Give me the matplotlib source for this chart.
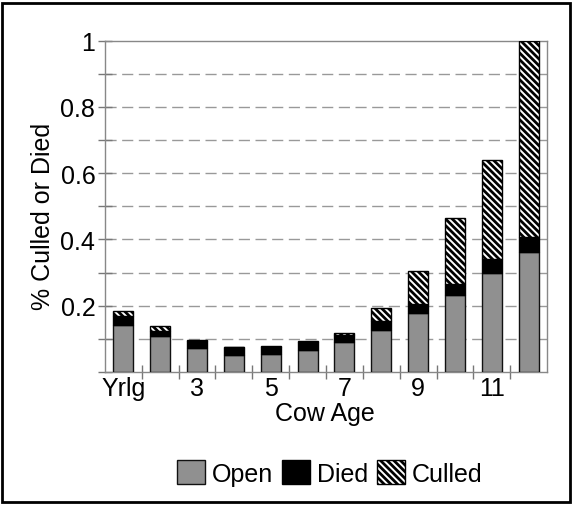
import matplotlib
matplotlib.use('Agg')
import matplotlib.pyplot as plt
from matplotlib.patches import Rectangle, Patch
from matplotlib.ticker import FixedLocator, FuncFormatter
import numpy as np

plt.rcParams['font.family'] = ['Liberation Sans', 'DejaVu Sans']
plt.rcParams['hatch.linewidth'] = 2.0

ages = ['Yrlg', '2', '3', '4', '5', '6', '7', '8', '9', '10', '11', '12']
open_ = [0.143, 0.108, 0.071, 0.052, 0.055, 0.067, 0.090, 0.128, 0.179, 0.232, 0.299, 0.363]
died = [0.027, 0.016, 0.024, 0.022, 0.021, 0.023, 0.023, 0.026, 0.026, 0.033, 0.042, 0.043]
culled = [0.015, 0.014, 0.002, 0.002, 0.002, 0.003, 0.004, 0.038, 0.099, 0.199, 0.299, 0.594]
x_labels = ['Yrlg', '', '3', '', '5', '', '7', '', '9', '', '11', '']

FS = 18
OPEN_COLOR = '#909090'
CULL_HATCH = '\\' * 5

fig = plt.figure(figsize=(5.73, 5.06), dpi=100)
ax = fig.add_axes([105 / 573, 1 - 373 / 506, 442 / 573, 331.5 / 506])

x = np.arange(len(ages))
w = 0.54
open_ = np.array(open_)
died = np.array(died)
culled = np.array(culled)

ax.bar(x, open_, w, color=OPEN_COLOR, edgecolor='#111111', linewidth=1, zorder=3)
ax.bar(x, died, w, bottom=open_, color='black', edgecolor='black', linewidth=1, zorder=3)
ax.bar(x, culled, w, bottom=open_ + died, color='white', edgecolor='black',
       hatch=CULL_HATCH, linewidth=1, zorder=3)

ax.set_xlim(-0.5, 11.5)
ax.set_ylim(0, 1)

# y axis
ax.yaxis.set_major_locator(FixedLocator([0, 0.2, 0.4, 0.6, 0.8, 1.0]))
ax.yaxis.set_minor_locator(FixedLocator([0.1, 0.3, 0.5, 0.7, 0.9]))
ax.yaxis.set_major_formatter(FuncFormatter(lambda v, p: '' if v == 0 else ('1' if v == 1 else '%.1f' % v)))
ax.tick_params(axis='y', which='both', direction='inout', length=10, width=1,
               color='#777777', labelsize=FS, pad=2)

# grid at every 0.1
for g in np.arange(0.1, 0.95, 0.1):
    ax.axhline(g, color='#999999', linewidth=1, dashes=(8, 4), zorder=1)

# x axis: labels at bar centres, tick marks between bars
ax.set_xticks(x)
ax.set_xticklabels(x_labels)
ax.set_xticks(np.arange(0.5, 11.5, 1), minor=True)
ax.tick_params(axis='x', which='major', length=0, labelsize=FS, pad=3)
ax.tick_params(axis='x', which='minor', direction='inout', length=10, width=1, color='#777777')

for s in ax.spines.values():
    s.set_color('#888888')
    s.set_linewidth(1)

fig.text(43 / 573, 1 - 216 / 506, '% Culled or Died', rotation=90, ha='center', va='center', fontsize=FS)
fig.text(325 / 573, 1 - 414 / 506, 'Cow Age', ha='center', va='center', fontsize=FS)

handles = [Patch(facecolor=OPEN_COLOR, edgecolor='#111111', label='Open'),
           Patch(facecolor='black', edgecolor='black', label='Died'),
           Patch(facecolor='white', edgecolor='black', hatch=CULL_HATCH, label='Culled')]
fig.legend(handles=handles, loc='center', bbox_to_anchor=(330 / 573, 1 - 474 / 506), ncol=3,
           frameon=False, fontsize=FS, handlelength=1.1, handleheight=1.1,
           handletextpad=0.3, columnspacing=0.35)

fig.patches.append(Rectangle((2 / 573, 3 / 506), 568 / 573, 499 / 506, transform=fig.transFigure,
                             fill=False, edgecolor='black', linewidth=2))

fig.savefig('out.png', dpi=100)
